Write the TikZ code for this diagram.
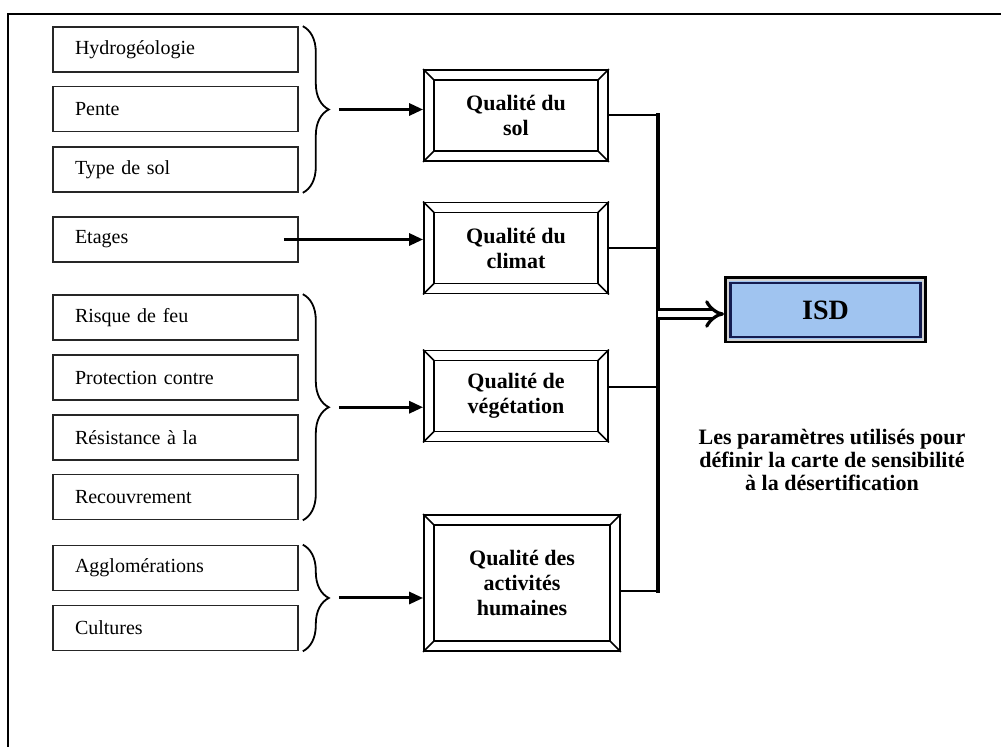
\documentclass[tikz,border=0pt]{standalone}
\usepackage{fontspec}
\setmainfont{Liberation Serif}
\usetikzlibrary{arrows.meta,decorations.pathreplacing}

\definecolor{isdblue}{RGB}{160,196,240}
\definecolor{isdnavy}{RGB}{20,28,80}

\tikzset{
  critbox/.style={draw=black!85, line width=.8pt, minimum width=122.5pt, minimum height=22.5pt,
    text width=100.5pt, inner xsep=11pt, align=left, font=\fontsize{10}{11}\selectfont},
  qualbox/.style={draw, line width=.9pt, minimum width=92pt, minimum height=45.5pt,
    align=center, font=\bfseries\fontsize{11}{12.5}\selectfont},
  accol/.style={decorate, decoration={brace, amplitude=13pt}, line width=.9pt},
  fleche/.style={-{Triangle[length=7pt,width=6pt]}, line width=1.5pt},
}

\begin{document}
\begin{tikzpicture}[x=0.5pt, y=-0.5pt]
  \useasboundingbox (0,0) rectangle (1001,747);
  \draw[line width=1pt] (8,747) -- (8,14) -- (1001,14);

  % criteres
  \foreach \y/\nom/\txt in {49.5/hydro/Hydrogéologie, 109/pente/Pente, 169.5/typesol/Type de sol,
      239.5/etages/Etages, 317.5/feu/Risque de feu, 377.5/protec/Protection contre,
      437.5/resist/Résistance à la, 497/recouv/Recouvrement, 568/agglo/Agglomérations, 628/cult/Cultures}
    \node[critbox] (\nom) at (175.5,\y) {\txt};

  % qualites
  \node[qualbox] (qsol) at (516,115.5) {Qualité du\\sol};
  \node[qualbox] (qclim) at (516,248) {Qualité du\\climat};
  \node[qualbox] (qveg) at (516,396) {Qualité de\\végétation};
  \node[qualbox, minimum width=98pt, minimum height=68pt] (qhum) at (522,583) {Qualité des\\activités\\humaines};
  \foreach \q in {qsol,qclim,qveg,qhum} {
    \draw[line width=.8pt] ([shift={(5.5pt,-5.5pt)}]\q.north west) rectangle ([shift={(-5.5pt,5.5pt)}]\q.south east);
    \draw[line width=.8pt] (\q.north west) -- ++(5.5pt,-5.5pt);
    \draw[line width=.8pt] (\q.north east) -- ++(-5.5pt,-5.5pt);
    \draw[line width=.8pt] (\q.south west) -- ++(5.5pt,5.5pt);
    \draw[line width=.8pt] (\q.south east) -- ++(-5.5pt,5.5pt);
  }

  % ISD
  \node[draw, line width=2pt, fill=isdblue, minimum width=99.5pt, minimum height=31.5pt,
    font=\bfseries\fontsize{14}{16}\selectfont] (isd) at (825.5,310) {ISD};
  \draw[gray!35, line width=1pt] ([shift={(1.8pt,-1.8pt)}]isd.north west) rectangle ([shift={(-1.8pt,1.8pt)}]isd.south east);
  \draw[isdnavy, line width=1.2pt] ([shift={(3.2pt,-3.2pt)}]isd.north west) rectangle ([shift={(-3.2pt,3.2pt)}]isd.south east);

  \node[font=\bfseries\fontsize{11}{11.5}\selectfont, align=center] (legende) at (832,460)
    {Les paramètres utilisés pour\\définir la carte de sensibilité\\à la désertification};

  % accolades
  \draw[accol] ([xshift=2pt]hydro.north east) -- ([xshift=2pt]typesol.south east) coordinate[midway, xshift=18pt] (b1);
  \draw[accol] ([xshift=2pt]feu.north east) -- ([xshift=2pt]recouv.south east) coordinate[midway, xshift=18pt] (b3);
  \draw[accol] ([xshift=2pt]agglo.north east) -- ([xshift=2pt]cult.south east) coordinate[midway, xshift=18pt] (b4);
  \coordinate (b2) at ([xshift=-7.5pt]etages.east);

  \draw[fleche] (b1) -- (b1 -| qsol.west);
  \draw[fleche] (b2) -- (b2 -| qclim.west);
  \draw[fleche] (b3) -- (b3 -| qveg.west);
  \draw[fleche] (b4) -- (b4 -| qhum.west);

  % bus vers ISD
  \coordinate (bus) at (658,314);
  \draw[line width=1pt] (qsol.east) -- (qsol.east -| bus);
  \draw[line width=1pt] (qclim.east) -- (qclim.east -| bus);
  \draw[line width=1pt] ([yshift=4.5pt]qveg.east) -- ([yshift=4.5pt]qveg.east -| bus);
  \draw[line width=1pt] ([yshift=-4pt]qhum.east) -- ([yshift=-4pt]qhum.east -| bus);
  \draw[line width=2pt, line cap=rect] (qsol.east -| bus) -- ([yshift=-4pt]qhum.east -| bus);
  \draw[-{Implies[scale=1.3]}, double, double distance=3pt, line width=1.6pt] (bus) -- (bus -| isd.west);
\end{tikzpicture}
\end{document}
